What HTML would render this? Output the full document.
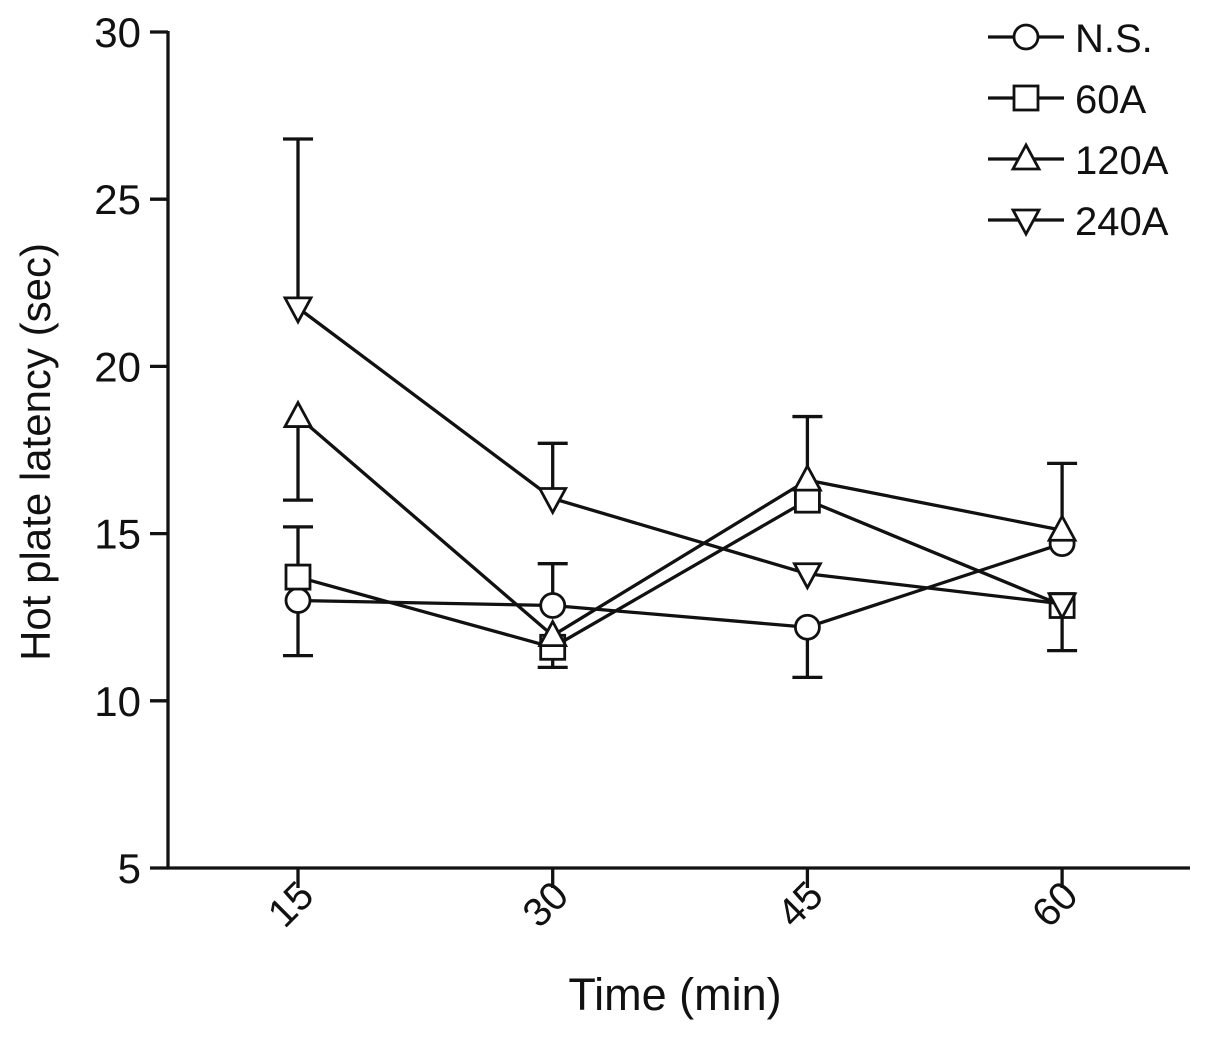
<!DOCTYPE html>
<html><head><meta charset="utf-8"><style>
html,body{margin:0;padding:0;background:#fff;}
svg text{font-family:"Liberation Sans",Arial,sans-serif;fill:#111;}
</style></head><body>
<svg id="chart" width="1205" height="1035" viewBox="0 0 1205 1035" xmlns="http://www.w3.org/2000/svg"></svg>
<script>
const categories=[15,30,45,60];
const seriesNames=["N.S.","60A","120A","240A"];
const nsValues=[13.0,12.85,12.2,14.7];
const a60Values=[13.7,11.6,16.0,12.85];
const a120Values=[18.5,11.95,16.6,15.1];
const a240Values=[21.75,16.05,13.8,12.9];
const nsErr=[-1.65,1.25,-1.5,2.4];
const a60Err=[1.5,-0.6,0,-1.35];
const a120Err=[-2.5,0,1.9,0];
const a240Err=[5.05,1.65,0,0];
const yTicks=[5,10,15,20,25,30];
const markers=["circle","square","up","down"];

const svg=document.getElementById('chart');
const NS='http://www.w3.org/2000/svg';
function yS(v){return 868-(v-5)*(836/25);}
function xS(i){return 298+i*254.7;}
function mk(tag,attrs,parent){const e=document.createElementNS(NS,tag);for(const k in attrs)e.setAttribute(k,attrs[k]);(parent||svg).appendChild(e);return e;}
const S={stroke:'#111','stroke-width':3.3,fill:'none'};

let ya=mk('line',Object.assign({x1:168,y1:31,x2:168,y2:869},S));


let xa=mk('line',Object.assign({x1:167,y1:868,x2:1190,y2:868},S));


yTicks.forEach(t=>{
  mk('line',Object.assign({x1:150,y1:yS(t),x2:168,y2:yS(t)},S));
  let tx=mk('text',{x:141,y:yS(t)+15,'text-anchor':'end','font-size':42});
  tx.textContent=t;
  
  
});
categories.forEach((c,i)=>{
  const x=xS(i);
  mk('line',Object.assign({x1:x,y1:868,x2:x,y2:888},S));
  let tx=mk('text',{x:x+18,y:898,'text-anchor':'end','font-size':40,transform:`rotate(-45 ${x+18} 898)`});
  tx.textContent=c;
  
  
});
let yt=mk('text',{x:50,y:452,'text-anchor':'middle','font-size':42,transform:'rotate(-90 50 452)'});
yt.textContent='Hot plate latency (sec)';


let xt=mk('text',{x:675,y:1010,'text-anchor':'middle','font-size':45});
xt.textContent='Time (min)';



function marker(type,x,y,g){
  const r=12;
  const st=Object.assign({},S,{fill:'#fff','stroke-width':2.8});
  if(type==='circle')return mk('circle',Object.assign({cx:x,cy:y,r:r},st),g);
  if(type==='square')return mk('rect',Object.assign({x:x-r,y:y-r,width:2*r,height:2*r},st),g);
  if(type==='up')return mk('polygon',Object.assign({points:`${x},${y-14} ${x-13},${y+10} ${x+13},${y+10}`},st),g);
  return mk('polygon',Object.assign({points:`${x},${y+14} ${x-13},${y-10} ${x+13},${y-10}`},st),g);
}
const allVals=[nsValues,a60Values,a120Values,a240Values];
const allErr=[nsErr,a60Err,a120Err,a240Err];
const names=['series-ns','series-60a','series-120a','series-240a'];
allVals.forEach((vals,s)=>{
  const g=mk('g',{});
  
  
  vals.forEach((v,i)=>{
    const e=allErr[s][i];
    if(e!==0){
      const y0=yS(v),y1=yS(v+e),x=xS(i);
      mk('line',Object.assign({x1:x,y1:y0,x2:x,y2:y1},S),g);
      mk('line',Object.assign({x1:x-15,y1:y1,x2:x+15,y2:y1},S),g);
    }
  });
  mk('polyline',Object.assign({points:vals.map((v,i)=>xS(i)+','+yS(v)).join(' ')},S),g);
  vals.forEach((v,i)=>{
    const m=marker(markers[s],xS(i),yS(v),g);
    
    
  });
});
seriesNames.forEach((n,s)=>{
  const y=37+s*61;
  const g=mk('g',{});
  
  
  mk('line',Object.assign({x1:988,y1:y,x2:1064,y2:y},S),g);
  marker(markers[s],1026,y,g);
  const t=mk('text',{x:1075,y:y+15,'font-size':40},g);
  t.textContent=n;
});
</script>
</body></html>
